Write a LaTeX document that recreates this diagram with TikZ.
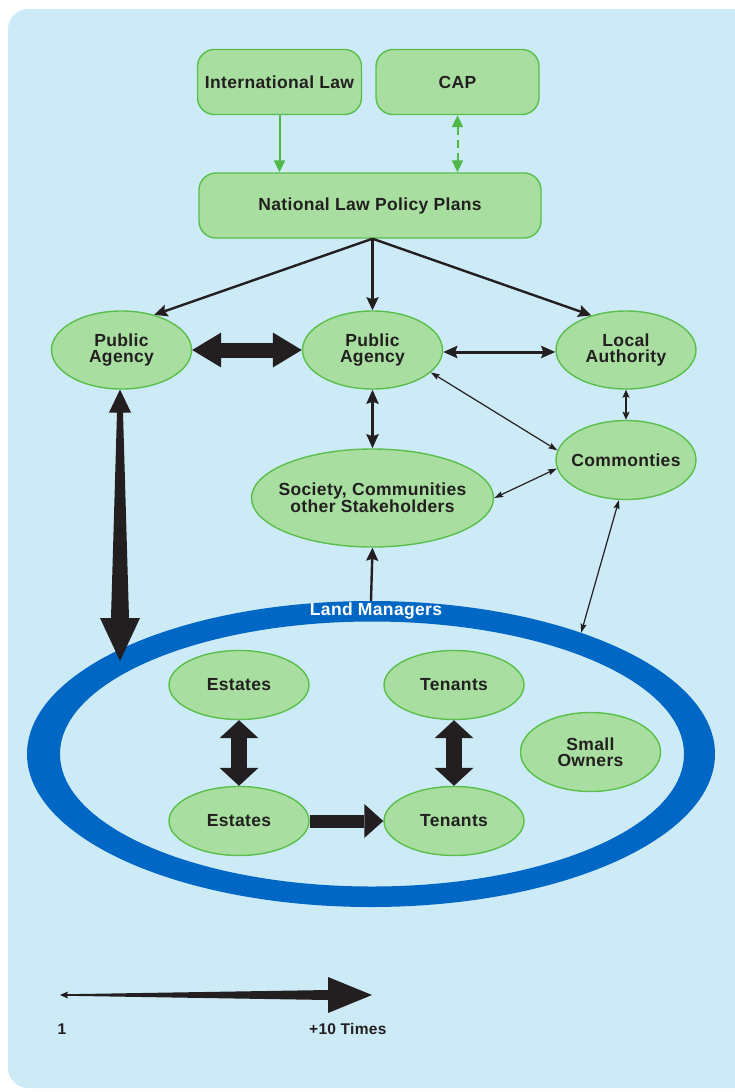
\documentclass[tikz,border=0pt]{standalone}
\usepackage{fontspec}
\setmainfont{Liberation Sans}[LetterSpace=2]
\usetikzlibrary{shapes.geometric,arrows.meta,calc}
\definecolor{bgblue}{HTML}{CDEBF7}
\definecolor{gfill}{HTML}{A8DFA0}
\definecolor{gborder}{HTML}{5ABE4B}
\definecolor{garrow}{HTML}{4FB947}
\definecolor{ringblue}{HTML}{0068C4}
\definecolor{txt}{HTML}{231F20}
\tikzset{
  mainfont/.style={font=\bfseries\fontsize{17.5}{16}\selectfont},
  bx/.style={draw=gborder, fill=gfill, rounded corners=17pt, line width=1.4pt,
    minimum height=65pt, inner sep=0pt, mainfont, text=txt},
  elli/.style={ellipse, draw=gborder, fill=gfill, line width=1.4pt, inner sep=0pt},
  lbl/.style={mainfont, text=txt, align=center, inner sep=0pt},
  garr/.style={draw=garrow, line width=2pt},
  gtip/.style={-{Triangle[length=12pt,width=11pt]}},
  medarr/.style={draw=txt, line width=2.4pt, -{Stealth[length=13pt,width=12pt,inset=2pt]}},
  dblmed/.style={draw=txt, line width=3pt, {Stealth[length=14pt,width=12pt,inset=2pt]}-{Stealth[length=14pt,width=12pt,inset=2pt]}},
  dblthin/.style={draw=txt, line width=1.2pt, {Stealth[length=9pt,width=6pt,inset=1.5pt]}-{Stealth[length=9pt,width=6pt,inset=1.5pt]}},
  dblsmall/.style={draw=txt, line width=1.5pt, {Stealth[length=8pt,width=7pt,inset=1.5pt]}-{Stealth[length=8pt,width=7pt,inset=1.5pt]}},
  blkfill/.style={fill=txt},
}
\begin{document}
\begin{tikzpicture}[x=1pt,y=-1pt]
\useasboundingbox (0,0) rectangle (735,1092);
% background
\fill[bgblue, rounded corners=20pt] (8,9) rectangle (770,1088);

% top boxes
\node[bx, minimum width=164pt] (il) at (279.5,82) {International Law};
\node[bx, minimum width=163pt] (cap) at (457.5,82) {CAP};
\node[bx, minimum width=342pt] (nl) at (370,205.5) {National Law Policy Plans};

% ellipses
\node[elli, minimum width=140pt, minimum height=78pt, label={[lbl]center:{Public\\Agency}}] (pa1) at (121.5,350) {};
\node[elli, minimum width=140pt, minimum height=78pt, label={[lbl]center:{Public\\Agency}}] (pa2) at (372.5,350) {};
\node[elli, minimum width=140pt, minimum height=78pt, label={[lbl]center:{Local\\Authority}}] (la) at (626,350) {};
\node[elli, minimum width=140pt, minimum height=79pt, label={[lbl]center:{Commonties}}] (comm) at (626,460) {};
\node[elli, minimum width=242pt, minimum height=98pt, label={[lbl]center:{Society, Communities\\other Stakeholders}}] (soc) at (372.5,498) {};

% land managers ring
\node[ellipse, minimum width=688pt, minimum height=306pt, inner sep=0pt] (lm) at (371,754) {};
\fill[ringblue, even odd rule] (371,754) ellipse [x radius=344, y radius=153]
  (372,754) ellipse [x radius=312, y radius=132.5];
\node[mainfont, text=white, inner sep=0pt] (lmlabel) at (376,611) {Land Managers};

\node[elli, minimum width=140pt, minimum height=69pt, label={[lbl]center:{Estates}}] (est1) at (239,685) {};
\node[elli, minimum width=140pt, minimum height=69pt, label={[lbl]center:{Tenants}}] (ten1) at (454,685) {};
\node[elli, minimum width=140pt, minimum height=69pt, label={[lbl]center:{Estates}}] (est2) at (239,821) {};
\node[elli, minimum width=140pt, minimum height=69pt, label={[lbl]center:{Tenants}}] (ten2) at (454,821) {};
\node[elli, minimum width=140pt, minimum height=79pt, label={[lbl]center:{Small\\Owners}}] (so) at (590.5,752) {};

% green connectors
\draw[garr, gtip] (il.south) -- (il.south |- nl.north);
\draw[garr, dash pattern=on 8pt off 5pt, {Triangle[length=12pt,width=11pt]}-{Triangle[length=12pt,width=11pt]}] (cap.south) -- (cap.south |- nl.north);

% from national law
\coordinate (nlo) at (pa2.north |- nl.south);
\draw[medarr] (nlo) -- (pa1.47);
\draw[medarr] (nlo) -- (pa2.north);
\draw[medarr] (nlo) -- (la.135);

% agency links
\draw[draw=txt, line width=15pt, {Triangle[length=29pt,width=35pt,line width=0pt]}-{Triangle[length=29pt,width=35pt,line width=0pt]}] (pa1.east) -- (pa2.west);
\draw[dblmed] ($(pa2.east)+(0,2)$) -- ($(la.west)+(0,2)$);
\draw[dblmed] (pa2.south) -- (soc.north);
\draw[dblthin] (pa2.-21) -- (comm.172);
\draw[dblsmall] (la.south) -- (comm.north);
\draw[dblthin] (comm.187) -- (soc.east);
\draw[dblthin] (comm.-100) -- (lm.30);
\draw[medarr] (lm.north) -- (soc.south);

% big tapered arrow between public agency and land managers
\coordinate (bt) at (120,389.5);
\coordinate (bb) at (120,661);
\fill[blkfill] (bt) -- ($(bt)+(11,23)$) -- ($(bt)+(3,23)$) -- ($(bb)+(9,-43)$) -- ($(bb)+(20,-43)$)
  -- (bb) -- ($(bb)+(-20,-43)$) -- ($(bb)+(-9,-43)$) -- ($(bt)+(-3,23)$) -- ($(bt)+(-11,23)$) -- cycle;

% inner block arrows
\draw[draw=txt, line width=16pt, {Triangle[length=18pt,width=39pt,line width=0pt]}-{Triangle[length=18pt,width=39pt,line width=0pt]}] (est1.south) -- (est2.north);
\draw[draw=txt, line width=16pt, {Triangle[length=18pt,width=39pt,line width=0pt]}-{Triangle[length=18pt,width=39pt,line width=0pt]}] (ten1.south) -- (ten2.north);
\draw[draw=txt, line width=13pt, -{Triangle[length=19pt,width=34pt,line width=0pt]}] (est2.east) -- (ten2.west);

% legend
\coordinate (l1) at (60,995);
\coordinate (l2) at (372,995);
\fill[blkfill] (l1) -- ($(l1)+(8,-3.5)$) -- ($(l1)+(7,-0.8)$) -- ($(l2)+(-44,-5)$) -- ($(l2)+(-44,-18)$)
  -- (l2) -- ($(l2)+(-44,18)$) -- ($(l2)+(-44,5)$) -- ($(l1)+(7,0.8)$) -- ($(l1)+(8,3.5)$) -- cycle;
\node[font=\bfseries\fontsize{15.5}{16}\selectfont, text=txt, inner sep=0pt] (one) at (62,1029) {1};
\node[font=\bfseries\fontsize{15.5}{16}\selectfont, text=txt, inner sep=0pt, anchor=west] (ten) at (309,1029) {+10 Times};
\end{tikzpicture}
\end{document}
